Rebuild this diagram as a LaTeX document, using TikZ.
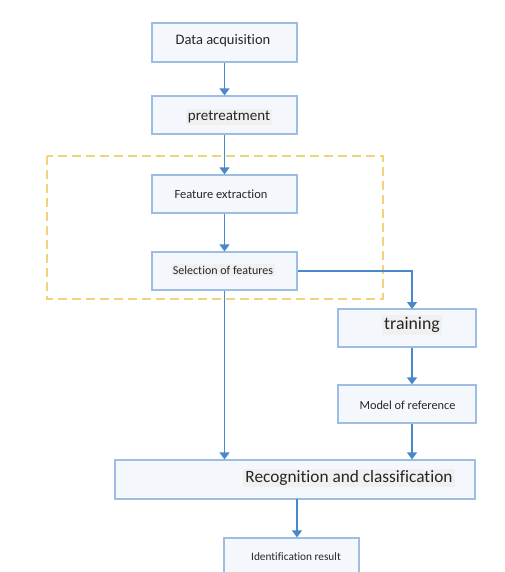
\documentclass[tikz,border=0pt]{standalone}
\usepackage{fontspec}
\setmainfont{Carlito}[Ligatures=NoCommon]
\usetikzlibrary{arrows.meta}
\definecolor{boxline}{HTML}{9DBDE2}
\definecolor{boxfill}{HTML}{F4F7FB}
\definecolor{arrowc}{HTML}{4A88CC}
\definecolor{dashc}{HTML}{F2D37A}
\begin{document}
\begin{tikzpicture}[x=1pt,y=-1pt,
  box/.style={draw=boxline,fill=boxfill,line width=1.2pt,inner sep=0pt},
  lbl/.style={inner sep=2pt,text=black!85},
  hl/.style={lbl,fill=black!6},
  arr/.style={draw=arrowc,line width=1.4pt,-{Triangle[length=7pt,width=10pt]}}]
\useasboundingbox (0,0) rectangle (504,572);
% dashed group
\draw[dashc,line width=1.6pt,dash pattern=on 9pt off 5pt] (47,156) rectangle (383,299);
% boxes
\node[box,minimum width=145pt,minimum height=39pt] (b1) at (224.5,42.5) {};
\node[box,minimum width=145pt,minimum height=38pt] (b2) at (224.5,115) {};
\node[box,minimum width=145pt,minimum height=38pt] (b3) at (224.5,194) {};
\node[box,minimum width=145pt,minimum height=38pt] (b4) at (224.5,271) {};
\node[box,minimum width=138pt,minimum height=38pt] (b5) at (407,328) {};
\node[box,minimum width=138pt,minimum height=38pt] (b6) at (407,404) {};
\node[box,minimum width=360pt,minimum height=39pt] (b7) at (295,479.5) {};
\node[box,minimum width=135pt,minimum height=42pt] (b8) at (291.5,559) {};
% connector points
\coordinate (c5t) at (412,309);
\coordinate (c7b) at (297,499);
% labels
\node[lbl,font=\fontsize{14.5}{16}\selectfont] (t1) at (223,41) {Data acquisition};
\node[hl,font=\fontsize{15}{17}\selectfont] (t2) at (229,117) {pretreatment};
\node[lbl,font=\fontsize{12.5}{14}\selectfont] (t3) at (221,194) {Feature extraction};
\node[hl,font=\fontsize{12}{14}\selectfont] (t4) at (223,270) {Selection of features};
\node[hl,font=\fontsize{17.8}{20}\selectfont] (t5) at (412,325) {training};
\node[lbl,font=\fontsize{12.3}{14}\selectfont] (t6) at (407.5,405) {Model of reference};
\node[hl,font=\fontsize{17.3}{19}\selectfont] (t7) at (349,478) {Recognition and classification};
\node[lbl,font=\fontsize{11.3}{13}\selectfont] (t8) at (296,557) {Identification result};
% connectors
\draw[arr] (b1.south) -- (b2.north);
\draw[arr] (b2.south) -- (b3.north);
\draw[arr] (b3.south) -- (b4.north);
\draw[arr] (b4.east) -| (c5t);
\draw[arr] (b5.south -| c5t) -- (b6.north -| c5t);
\draw[arr] (b4.south) -- (b4.south |- b7.north);
\draw[arr] (b6.south -| c5t) -- (b7.north -| c5t);
\draw[arr] (c7b) -- (b8.north -| c7b);
\end{tikzpicture}
\end{document}
